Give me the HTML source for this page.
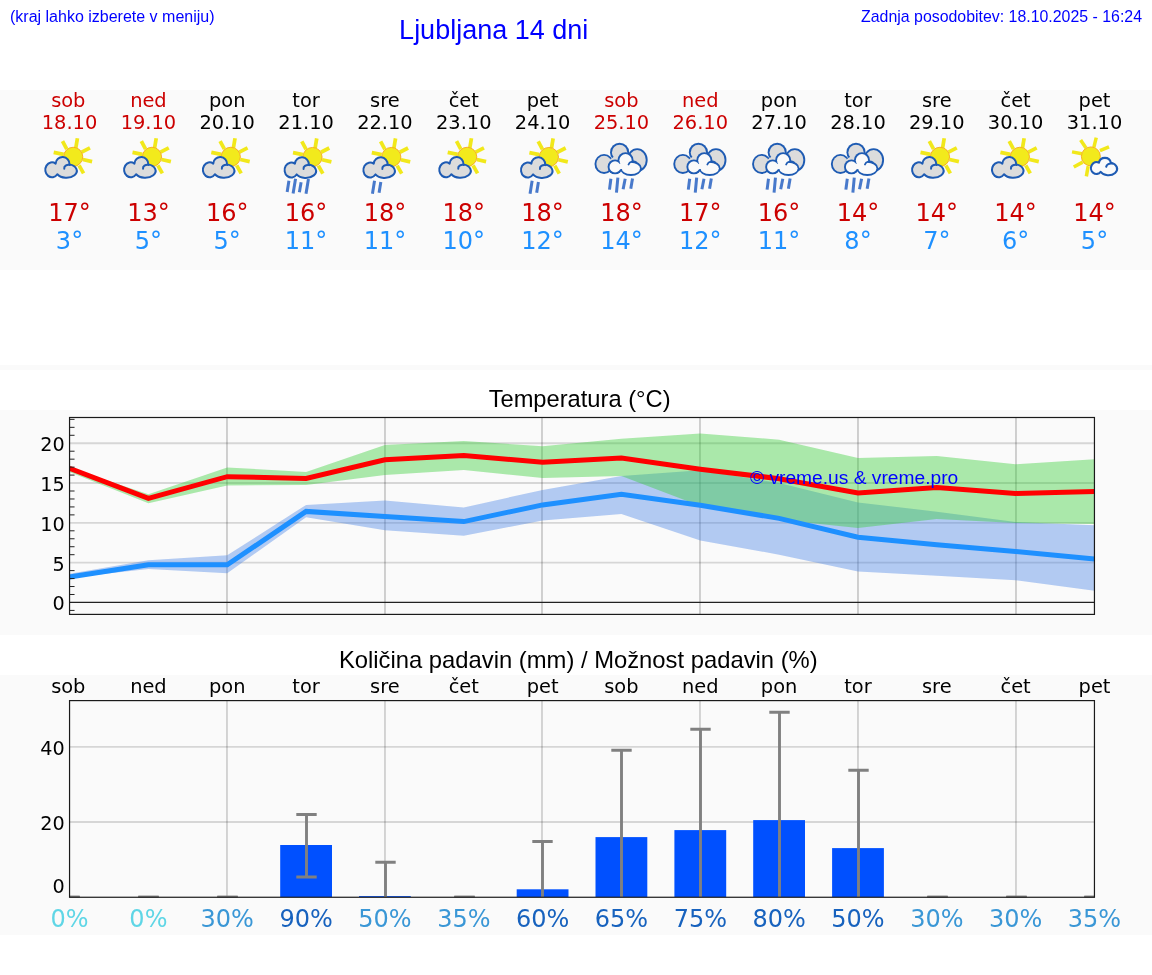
<!DOCTYPE html>
<html lang="sl"><head><meta charset="utf-8"><title>Ljubljana 14 dni</title>
<style>html,body{margin:0;padding:0;background:#fff}body{width:1152px;height:975px;overflow:hidden}svg{display:block}.a{font-family:"Liberation Sans",sans-serif}.d{font-family:"DejaVu Sans","Liberation Sans",sans-serif}</style></head><body>
<svg width="1152" height="975" viewBox="0 0 1152 975">
<defs>
<g id="pc"><g transform="scale(0.05333)"><g transform="translate(-3,11)"><g stroke="#f1e81a" stroke-width="70"><line x1="505" y1="310" x2="425" y2="160"/><line x1="675" y1="285" x2="705" y2="105"/><line x1="785" y1="365" x2="940" y2="285"/><line x1="805" y1="505" x2="980" y2="545"/><line x1="735" y1="615" x2="820" y2="765"/><line x1="445" y1="410" x2="260" y2="372"/></g><circle cx="625" cy="455" r="180" fill="#f2ea1c" stroke="#f6a81c" stroke-width="17"/></g><path d="M325,792 A125,140 0 1 1 293,592 A130,130 0 0 1 553,607 A195,128 0 1 1 325,792 Z" fill="#dcdcdc" stroke="#1e5bb3" stroke-width="38" stroke-linejoin="round"/><path d="M560,617 C500,608 445,640 455,690" fill="none" stroke="#1e5bb3" stroke-width="38" stroke-linecap="round"/></g></g>
<g id="sh4"><g transform="translate(2.9,0.2) scale(0.05333)"><g transform="translate(-3,11)"><g stroke="#f1e81a" stroke-width="70"><line x1="505" y1="310" x2="425" y2="160"/><line x1="675" y1="285" x2="705" y2="105"/><line x1="785" y1="365" x2="940" y2="285"/><line x1="805" y1="505" x2="980" y2="545"/><line x1="735" y1="615" x2="820" y2="765"/><line x1="445" y1="410" x2="260" y2="372"/></g><circle cx="625" cy="455" r="180" fill="#f2ea1c" stroke="#f6a81c" stroke-width="17"/></g><path d="M325,792 A125,140 0 1 1 293,592 A130,130 0 0 1 553,607 A195,128 0 1 1 325,792 Z" fill="#dcdcdc" stroke="#1e5bb3" stroke-width="38" stroke-linejoin="round"/><path d="M560,617 C500,608 445,640 455,690" fill="none" stroke="#1e5bb3" stroke-width="38" stroke-linecap="round"/></g><g transform="translate(-0.4,0) scale(0.06978)"><g stroke="#4879cb" stroke-width="43"><line x1="185" y1="700" x2="160" y2="860"/><line x1="280" y1="670" x2="245" y2="880"/><line x1="360" y1="720" x2="335" y2="865"/><line x1="465" y1="675" x2="430" y2="885"/></g></g></g>
<g id="sh2"><g transform="translate(2.9,0.2) scale(0.05333)"><g transform="translate(-3,11)"><g stroke="#f1e81a" stroke-width="70"><line x1="505" y1="310" x2="425" y2="160"/><line x1="675" y1="285" x2="705" y2="105"/><line x1="785" y1="365" x2="940" y2="285"/><line x1="805" y1="505" x2="980" y2="545"/><line x1="735" y1="615" x2="820" y2="765"/><line x1="445" y1="410" x2="260" y2="372"/></g><circle cx="625" cy="455" r="180" fill="#f2ea1c" stroke="#f6a81c" stroke-width="17"/></g><path d="M325,792 A125,140 0 1 1 293,592 A130,130 0 0 1 553,607 A195,128 0 1 1 325,792 Z" fill="#dcdcdc" stroke="#1e5bb3" stroke-width="38" stroke-linejoin="round"/><path d="M560,617 C500,608 445,640 455,690" fill="none" stroke="#1e5bb3" stroke-width="38" stroke-linecap="round"/></g><g transform="translate(-0.2,0) scale(0.06978)"><g stroke="#4879cb" stroke-width="43"><line x1="280" y1="700" x2="250" y2="885"/><line x1="370" y1="715" x2="345" y2="870"/></g></g></g>
<g id="rain"><g transform="translate(-0.6,0) scale(0.06978)"><g fill="#1e5bb3"><ellipse cx="187" cy="458" rx="137" ry="143"/><ellipse cx="410" cy="292" rx="137" ry="137"/><ellipse cx="662" cy="402" rx="150" ry="170"/></g><g fill="#dcdcdc"><ellipse cx="187" cy="458" rx="110" ry="116"/><ellipse cx="410" cy="292" rx="110" ry="110"/><ellipse cx="662" cy="402" rx="123" ry="143"/><path d="M187,458 L410,292 L662,402 L600,540 L300,560 Z"/></g><g fill="#1e5bb3"><ellipse cx="345" cy="500" rx="107" ry="107"/><ellipse cx="495" cy="405" rx="115" ry="115"/><ellipse cx="572" cy="522" rx="158" ry="108"/></g><g fill="#fafafa"><ellipse cx="345" cy="500" rx="80" ry="80"/><ellipse cx="495" cy="405" rx="88" ry="88"/><ellipse cx="572" cy="522" rx="131" ry="81"/><path d="M345,500 L495,405 L572,522 L572,548 L440,532 L345,545 Z"/></g><path d="M652,436 C610,408 552,420 538,465" fill="none" stroke="#1e5bb3" stroke-width="26" stroke-linecap="round"/><g stroke="#4879cb" stroke-width="43"><line x1="285" y1="670" x2="265" y2="825"/><line x1="385" y1="655" x2="365" y2="870"/><line x1="490" y1="670" x2="460" y2="820"/><line x1="595" y1="665" x2="570" y2="815"/></g></g></g>
<g id="sunny"><g transform="translate(-0.4,0) scale(0.06978)"><g stroke="#f1e81a" stroke-width="50"><line x1="255" y1="312" x2="115" y2="285"/><line x1="315" y1="230" x2="238" y2="115"/><line x1="428" y1="220" x2="462" y2="80"/><line x1="515" y1="268" x2="645" y2="212"/><line x1="268" y1="432" x2="140" y2="502"/><line x1="347" y1="490" x2="320" y2="635"/></g><circle cx="385" cy="350" r="136" fill="#f2ea1c" stroke="#f6a81c" stroke-width="13"/><path d="M525,570 A78,85 0 1 1 500,440 A88,88 0 0 1 672,440 A125,92 0 1 1 525,570 Z" fill="#fafafa" stroke="#1e5bb3" stroke-width="30" stroke-linejoin="round"/><path d="M690,452 C650,445 610,465 605,498" fill="none" stroke="#1e5bb3" stroke-width="30" stroke-linecap="round"/></g></g>
</defs>
<rect x="0" y="90" width="1152" height="180" fill="#fafafa"/>
<rect x="0" y="365" width="1152" height="5" fill="#fafafa"/>
<rect x="0" y="410" width="1152" height="225" fill="#fafafa"/>
<rect x="0" y="675" width="1152" height="260" fill="#fafafa"/>
<text class="a" x="10" y="22" font-size="16" fill="#0000ff">(kraj lahko izberete v meniju)</text>
<text class="a" x="493.7" y="39.2" font-size="27" fill="#0000ff" text-anchor="middle">Ljubljana 14 dni</text>
<text class="a" x="1142" y="21.7" font-size="15.9" fill="#0000ff" text-anchor="end">Zadnja posodobitev: 18.10.2025 - 16:24</text>
<text class="d" x="68.3" y="106.5" font-size="19.4" fill="#cc0000" text-anchor="middle">sob</text>
<text class="d" x="69.5" y="129.2" font-size="19.4" fill="#cc0000" text-anchor="middle">18.10</text>
<use href="#pc" x="40.0" y="132"/>
<text class="d" x="69.5" y="221" font-size="24" fill="#cc0000" text-anchor="middle">17°</text>
<text class="d" x="69.5" y="248.8" font-size="24" fill="#1e90ff" text-anchor="middle">3°</text>
<text class="d" x="148.4" y="106.5" font-size="19.4" fill="#cc0000" text-anchor="middle">ned</text>
<text class="d" x="148.4" y="129.2" font-size="19.4" fill="#cc0000" text-anchor="middle">19.10</text>
<use href="#pc" x="118.8" y="132"/>
<text class="d" x="148.4" y="221" font-size="24" fill="#cc0000" text-anchor="middle">13°</text>
<text class="d" x="148.4" y="248.8" font-size="24" fill="#1e90ff" text-anchor="middle">5°</text>
<text class="d" x="227.2" y="106.5" font-size="19.4" fill="#000" text-anchor="middle">pon</text>
<text class="d" x="227.2" y="129.2" font-size="19.4" fill="#000" text-anchor="middle">20.10</text>
<use href="#pc" x="197.6" y="132"/>
<text class="d" x="227.2" y="221" font-size="24" fill="#cc0000" text-anchor="middle">16°</text>
<text class="d" x="227.2" y="248.8" font-size="24" fill="#1e90ff" text-anchor="middle">5°</text>
<text class="d" x="306.1" y="106.5" font-size="19.4" fill="#000" text-anchor="middle">tor</text>
<text class="d" x="306.1" y="129.2" font-size="19.4" fill="#000" text-anchor="middle">21.10</text>
<use href="#sh4" x="276.4" y="132"/>
<text class="d" x="306.1" y="221" font-size="24" fill="#cc0000" text-anchor="middle">16°</text>
<text class="d" x="306.1" y="248.8" font-size="24" fill="#1e90ff" text-anchor="middle">11°</text>
<text class="d" x="384.9" y="106.5" font-size="19.4" fill="#000" text-anchor="middle">sre</text>
<text class="d" x="384.9" y="129.2" font-size="19.4" fill="#000" text-anchor="middle">22.10</text>
<use href="#sh2" x="355.2" y="132"/>
<text class="d" x="384.9" y="221" font-size="24" fill="#cc0000" text-anchor="middle">18°</text>
<text class="d" x="384.9" y="248.8" font-size="24" fill="#1e90ff" text-anchor="middle">11°</text>
<text class="d" x="463.8" y="106.5" font-size="19.4" fill="#000" text-anchor="middle">čet</text>
<text class="d" x="463.8" y="129.2" font-size="19.4" fill="#000" text-anchor="middle">23.10</text>
<use href="#pc" x="434.0" y="132"/>
<text class="d" x="463.8" y="221" font-size="24" fill="#cc0000" text-anchor="middle">18°</text>
<text class="d" x="463.8" y="248.8" font-size="24" fill="#1e90ff" text-anchor="middle">10°</text>
<text class="d" x="542.6" y="106.5" font-size="19.4" fill="#000" text-anchor="middle">pet</text>
<text class="d" x="542.6" y="129.2" font-size="19.4" fill="#000" text-anchor="middle">24.10</text>
<use href="#sh2" x="512.8" y="132"/>
<text class="d" x="542.6" y="221" font-size="24" fill="#cc0000" text-anchor="middle">18°</text>
<text class="d" x="542.6" y="248.8" font-size="24" fill="#1e90ff" text-anchor="middle">12°</text>
<text class="d" x="621.4" y="106.5" font-size="19.4" fill="#cc0000" text-anchor="middle">sob</text>
<text class="d" x="621.4" y="129.2" font-size="19.4" fill="#cc0000" text-anchor="middle">25.10</text>
<use href="#rain" x="591.6" y="132"/>
<text class="d" x="621.4" y="221" font-size="24" fill="#cc0000" text-anchor="middle">18°</text>
<text class="d" x="621.4" y="248.8" font-size="24" fill="#1e90ff" text-anchor="middle">14°</text>
<text class="d" x="700.3" y="106.5" font-size="19.4" fill="#cc0000" text-anchor="middle">ned</text>
<text class="d" x="700.3" y="129.2" font-size="19.4" fill="#cc0000" text-anchor="middle">26.10</text>
<use href="#rain" x="670.4" y="132"/>
<text class="d" x="700.3" y="221" font-size="24" fill="#cc0000" text-anchor="middle">17°</text>
<text class="d" x="700.3" y="248.8" font-size="24" fill="#1e90ff" text-anchor="middle">12°</text>
<text class="d" x="779.1" y="106.5" font-size="19.4" fill="#000" text-anchor="middle">pon</text>
<text class="d" x="779.1" y="129.2" font-size="19.4" fill="#000" text-anchor="middle">27.10</text>
<use href="#rain" x="749.2" y="132"/>
<text class="d" x="779.1" y="221" font-size="24" fill="#cc0000" text-anchor="middle">16°</text>
<text class="d" x="779.1" y="248.8" font-size="24" fill="#1e90ff" text-anchor="middle">11°</text>
<text class="d" x="858.0" y="106.5" font-size="19.4" fill="#000" text-anchor="middle">tor</text>
<text class="d" x="858.0" y="129.2" font-size="19.4" fill="#000" text-anchor="middle">28.10</text>
<use href="#rain" x="828.0" y="132"/>
<text class="d" x="858.0" y="221" font-size="24" fill="#cc0000" text-anchor="middle">14°</text>
<text class="d" x="858.0" y="248.8" font-size="24" fill="#1e90ff" text-anchor="middle">8°</text>
<text class="d" x="936.8" y="106.5" font-size="19.4" fill="#000" text-anchor="middle">sre</text>
<text class="d" x="936.8" y="129.2" font-size="19.4" fill="#000" text-anchor="middle">29.10</text>
<use href="#pc" x="906.8" y="132"/>
<text class="d" x="936.8" y="221" font-size="24" fill="#cc0000" text-anchor="middle">14°</text>
<text class="d" x="936.8" y="248.8" font-size="24" fill="#1e90ff" text-anchor="middle">7°</text>
<text class="d" x="1015.6" y="106.5" font-size="19.4" fill="#000" text-anchor="middle">čet</text>
<text class="d" x="1015.6" y="129.2" font-size="19.4" fill="#000" text-anchor="middle">30.10</text>
<use href="#pc" x="986.7" y="132"/>
<text class="d" x="1015.6" y="221" font-size="24" fill="#cc0000" text-anchor="middle">14°</text>
<text class="d" x="1015.6" y="248.8" font-size="24" fill="#1e90ff" text-anchor="middle">6°</text>
<text class="d" x="1094.5" y="106.5" font-size="19.4" fill="#000" text-anchor="middle">pet</text>
<text class="d" x="1094.5" y="129.2" font-size="19.4" fill="#000" text-anchor="middle">31.10</text>
<use href="#sunny" x="1064.4" y="132"/>
<text class="d" x="1094.5" y="221" font-size="24" fill="#cc0000" text-anchor="middle">14°</text>
<text class="d" x="1094.5" y="248.8" font-size="24" fill="#1e90ff" text-anchor="middle">5°</text>
<text class="a" x="579.6" y="407.3" font-size="23.7" fill="#000" text-anchor="middle">Temperatura (°C)</text>
<clipPath id="ct"><rect x="69.55" y="417.5" width="1024.9" height="196.89999999999998"/></clipPath>
<g stroke="#000" stroke-opacity="0.14" stroke-width="1.9"><line x1="69.55" x2="1094.45" y1="562.65" y2="562.65"/><line x1="69.55" x2="1094.45" y1="522.85" y2="522.85"/><line x1="69.55" x2="1094.45" y1="483.05" y2="483.05"/><line x1="69.55" x2="1094.45" y1="443.25" y2="443.25"/></g>
<g stroke="#000" stroke-opacity="0.18" stroke-width="1.9"><line x1="226.97" x2="226.97" y1="417.5" y2="614.4"/><line x1="384.97" x2="384.97" y1="417.5" y2="614.4"/><line x1="541.99" x2="541.99" y1="417.5" y2="614.4"/><line x1="699.97" x2="699.97" y1="417.5" y2="614.4"/><line x1="857.97" x2="857.97" y1="417.5" y2="614.4"/><line x1="1015.97" x2="1015.97" y1="417.5" y2="614.4"/></g>
<line x1="69.55" x2="1094.45" y1="602.45" y2="602.45" stroke="#222" stroke-width="1.2"/>
<g clip-path="url(#ct)">
<polygon points="69.5,573.8 148.4,560.3 227.2,555.3 306.1,504.9 384.9,500.6 463.8,507.4 542.6,489.9 621.4,475.9 700.3,470.3 779.1,483.1 858.0,502.4 936.8,511.7 1015.6,522.1 1094.5,525.2 1094.5,590.7 1015.6,580.2 936.8,575.8 858.0,571.5 779.1,554.7 700.3,540.4 621.4,514.1 542.6,520.5 463.8,535.8 384.9,530.3 306.1,517.3 227.2,573.2 148.4,569.0 69.5,577.8" fill="#4682e6" fill-opacity="0.4"/>
<polygon points="69.5,467.9 148.4,494.2 227.2,467.4 306.1,471.9 384.9,445.0 463.8,441.0 542.6,446.3 621.4,438.8 700.3,433.5 779.1,439.7 858.0,458.0 936.8,456.0 1015.6,464.2 1094.5,459.2 1094.5,524.1 1015.6,522.9 936.8,519.1 858.0,527.9 779.1,519.7 700.3,505.9 621.4,475.9 542.6,478.0 463.8,469.9 384.9,474.9 306.1,484.9 227.2,485.4 148.4,503.3 69.5,471.9" fill="#32cd32" fill-opacity="0.4"/>
<polyline points="69.5,468.3 148.4,498.4 227.2,476.7 306.1,478.4 384.9,459.7 463.8,455.5 542.6,462.2 621.4,458.0 700.3,469.2 779.1,478.7 858.0,492.9 936.8,487.4 1015.6,493.4 1094.5,491.6" fill="none" stroke="#ff0000" stroke-width="5" stroke-linejoin="miter"/>
<polyline points="69.5,577.0 148.4,564.8 227.2,564.8 306.1,511.4 384.9,516.5 463.8,521.6 542.6,504.9 621.4,494.2 700.3,505.3 779.1,518.4 858.0,537.3 936.8,544.8 1015.6,551.5 1094.5,559.1" fill="none" stroke="#1e90ff" stroke-width="5" stroke-linejoin="miter"/>
</g>
<g stroke="#222" stroke-width="1"><line x1="69.55" x2="74.55" y1="610.41" y2="610.41"/><line x1="69.55" x2="74.55" y1="594.49" y2="594.49"/><line x1="69.55" x2="74.55" y1="586.53" y2="586.53"/><line x1="69.55" x2="74.55" y1="578.57" y2="578.57"/><line x1="69.55" x2="74.55" y1="570.61" y2="570.61"/><line x1="69.55" x2="74.55" y1="554.69" y2="554.69"/><line x1="69.55" x2="74.55" y1="546.73" y2="546.73"/><line x1="69.55" x2="74.55" y1="538.77" y2="538.77"/><line x1="69.55" x2="74.55" y1="530.81" y2="530.81"/><line x1="69.55" x2="74.55" y1="514.89" y2="514.89"/><line x1="69.55" x2="74.55" y1="506.93" y2="506.93"/><line x1="69.55" x2="74.55" y1="498.97" y2="498.97"/><line x1="69.55" x2="74.55" y1="491.01" y2="491.01"/><line x1="69.55" x2="74.55" y1="475.09" y2="475.09"/><line x1="69.55" x2="74.55" y1="467.13" y2="467.13"/><line x1="69.55" x2="74.55" y1="459.17" y2="459.17"/><line x1="69.55" x2="74.55" y1="451.21" y2="451.21"/><line x1="69.55" x2="74.55" y1="435.29" y2="435.29"/><line x1="69.55" x2="74.55" y1="427.33" y2="427.33"/><line x1="69.55" x2="74.55" y1="419.37" y2="419.37"/></g>
<rect x="69.55" y="417.5" width="1024.9" height="196.89999999999998" fill="none" stroke="#1a1a1a" stroke-width="1.2"/>
<text class="d" x="64.6" y="609.8" font-size="19.2" fill="#000" text-anchor="end">0</text>
<text class="d" x="64.6" y="570.6" font-size="19.2" fill="#000" text-anchor="end">5</text>
<text class="d" x="64.6" y="530.8" font-size="19.2" fill="#000" text-anchor="end">10</text>
<text class="d" x="64.6" y="491.0" font-size="19.2" fill="#000" text-anchor="end">15</text>
<text class="d" x="64.6" y="451.2" font-size="19.2" fill="#000" text-anchor="end">20</text>
<text class="a" x="750" y="483.7" font-size="19.2" fill="#0000ff">© vreme.us &amp; vreme.pro</text>
<text class="a" x="578.3" y="667.6" font-size="23.8" fill="#000" text-anchor="middle">Količina padavin (mm) / Možnost padavin (%)</text>
<text class="d" x="68.3" y="692.7" font-size="19.4" fill="#000" text-anchor="middle">sob</text>
<text class="d" x="148.4" y="692.7" font-size="19.4" fill="#000" text-anchor="middle">ned</text>
<text class="d" x="227.2" y="692.7" font-size="19.4" fill="#000" text-anchor="middle">pon</text>
<text class="d" x="306.1" y="692.7" font-size="19.4" fill="#000" text-anchor="middle">tor</text>
<text class="d" x="384.9" y="692.7" font-size="19.4" fill="#000" text-anchor="middle">sre</text>
<text class="d" x="463.8" y="692.7" font-size="19.4" fill="#000" text-anchor="middle">čet</text>
<text class="d" x="542.6" y="692.7" font-size="19.4" fill="#000" text-anchor="middle">pet</text>
<text class="d" x="621.4" y="692.7" font-size="19.4" fill="#000" text-anchor="middle">sob</text>
<text class="d" x="700.3" y="692.7" font-size="19.4" fill="#000" text-anchor="middle">ned</text>
<text class="d" x="779.1" y="692.7" font-size="19.4" fill="#000" text-anchor="middle">pon</text>
<text class="d" x="858.0" y="692.7" font-size="19.4" fill="#000" text-anchor="middle">tor</text>
<text class="d" x="936.8" y="692.7" font-size="19.4" fill="#000" text-anchor="middle">sre</text>
<text class="d" x="1015.6" y="692.7" font-size="19.4" fill="#000" text-anchor="middle">čet</text>
<text class="d" x="1094.5" y="692.7" font-size="19.4" fill="#000" text-anchor="middle">pet</text>
<g stroke="#000" stroke-opacity="0.14" stroke-width="1.9"><line x1="69.55" x2="1094.45" y1="822.06" y2="822.06"/><line x1="69.55" x2="1094.45" y1="746.86" y2="746.86"/></g>
<g stroke="#000" stroke-opacity="0.16" stroke-width="1.9"><line x1="226.97" x2="226.97" y1="700.6" y2="897.26"/><line x1="384.97" x2="384.97" y1="700.6" y2="897.26"/><line x1="541.99" x2="541.99" y1="700.6" y2="897.26"/><line x1="699.97" x2="699.97" y1="700.6" y2="897.26"/><line x1="857.97" x2="857.97" y1="700.6" y2="897.26"/><line x1="1015.97" x2="1015.97" y1="700.6" y2="897.26"/></g>
<clipPath id="cp"><rect x="69.55" y="700.6" width="1024.9" height="196.65999999999997"/></clipPath>
<g clip-path="url(#cp)">
<rect x="280.2" y="845.0" width="51.8" height="52.3" fill="#0050ff"/>
<rect x="359.0" y="896.1" width="51.8" height="1.1" fill="#0050ff"/>
<rect x="516.7" y="889.3" width="51.8" height="8.0" fill="#0050ff"/>
<rect x="595.5" y="837.1" width="51.8" height="60.2" fill="#0050ff"/>
<rect x="674.4" y="830.1" width="51.8" height="67.2" fill="#0050ff"/>
<rect x="753.2" y="820.1" width="51.8" height="77.2" fill="#0050ff"/>
<rect x="832.1" y="848.1" width="51.8" height="49.1" fill="#0050ff"/>
<g stroke="#808080" stroke-width="2.9"><line x1="69.5" x2="69.5" y1="897.3" y2="897.3"/><line x1="59.3" x2="79.7" y1="897.3" y2="897.3"/><line x1="59.3" x2="79.7" y1="897.3" y2="897.3"/></g>
<g stroke="#808080" stroke-width="2.9"><line x1="148.5" x2="148.5" y1="897.3" y2="897.3"/><line x1="138.3" x2="158.7" y1="897.3" y2="897.3"/><line x1="138.3" x2="158.7" y1="897.3" y2="897.3"/></g>
<g stroke="#808080" stroke-width="2.9"><line x1="227.5" x2="227.5" y1="897.3" y2="897.3"/><line x1="217.3" x2="237.7" y1="897.3" y2="897.3"/><line x1="217.3" x2="237.7" y1="897.3" y2="897.3"/></g>
<g stroke="#808080" stroke-width="2.9"><line x1="306.5" x2="306.5" y1="814.5" y2="877.0"/><line x1="296.3" x2="316.7" y1="814.5" y2="814.5"/><line x1="296.3" x2="316.7" y1="877.0" y2="877.0"/></g>
<g stroke="#808080" stroke-width="2.9"><line x1="385.5" x2="385.5" y1="862.2" y2="897.3"/><line x1="375.3" x2="395.7" y1="862.2" y2="862.2"/></g>
<g stroke="#808080" stroke-width="2.9"><line x1="464.5" x2="464.5" y1="897.3" y2="897.3"/><line x1="454.3" x2="474.7" y1="897.3" y2="897.3"/><line x1="454.3" x2="474.7" y1="897.3" y2="897.3"/></g>
<g stroke="#808080" stroke-width="2.9"><line x1="542.5" x2="542.5" y1="841.5" y2="897.3"/><line x1="532.3" x2="552.7" y1="841.5" y2="841.5"/></g>
<g stroke="#808080" stroke-width="2.9"><line x1="621.5" x2="621.5" y1="750.2" y2="897.3"/><line x1="611.3" x2="631.7" y1="750.2" y2="750.2"/></g>
<g stroke="#808080" stroke-width="2.9"><line x1="700.5" x2="700.5" y1="729.2" y2="897.3"/><line x1="690.3" x2="710.7" y1="729.2" y2="729.2"/></g>
<g stroke="#808080" stroke-width="2.9"><line x1="779.5" x2="779.5" y1="712.3" y2="897.3"/><line x1="769.3" x2="789.7" y1="712.3" y2="712.3"/></g>
<g stroke="#808080" stroke-width="2.9"><line x1="858.5" x2="858.5" y1="770.2" y2="897.3"/><line x1="848.3" x2="868.7" y1="770.2" y2="770.2"/></g>
<g stroke="#808080" stroke-width="2.9"><line x1="937.5" x2="937.5" y1="897.3" y2="897.3"/><line x1="927.3" x2="947.7" y1="897.3" y2="897.3"/><line x1="927.3" x2="947.7" y1="897.3" y2="897.3"/></g>
<g stroke="#808080" stroke-width="2.9"><line x1="1016.5" x2="1016.5" y1="897.3" y2="897.3"/><line x1="1006.3" x2="1026.7" y1="897.3" y2="897.3"/><line x1="1006.3" x2="1026.7" y1="897.3" y2="897.3"/></g>
<g stroke="#808080" stroke-width="2.9"><line x1="1094.5" x2="1094.5" y1="897.3" y2="897.3"/><line x1="1084.3" x2="1104.7" y1="897.3" y2="897.3"/><line x1="1084.3" x2="1104.7" y1="897.3" y2="897.3"/></g>
</g>
<rect x="69.55" y="700.6" width="1024.9" height="196.65999999999997" fill="none" stroke="#1a1a1a" stroke-width="1.2"/>
<text class="d" x="64.6" y="892.5" font-size="19.2" fill="#000" text-anchor="end">0</text>
<text class="d" x="64.6" y="829.9" font-size="19.2" fill="#000" text-anchor="end">20</text>
<text class="d" x="64.6" y="754.85" font-size="19.2" fill="#000" text-anchor="end">40</text>
<text class="d" x="69.5" y="926.8" font-size="24" fill="#5fd6e6" text-anchor="middle">0%</text>
<text class="d" x="148.4" y="926.8" font-size="24" fill="#5fd6e6" text-anchor="middle">0%</text>
<text class="d" x="227.2" y="926.8" font-size="24" fill="#3a97d6" text-anchor="middle">30%</text>
<text class="d" x="306.1" y="926.8" font-size="24" fill="#1762be" text-anchor="middle">90%</text>
<text class="d" x="384.9" y="926.8" font-size="24" fill="#3a97d6" text-anchor="middle">50%</text>
<text class="d" x="463.8" y="926.8" font-size="24" fill="#3a97d6" text-anchor="middle">35%</text>
<text class="d" x="542.6" y="926.8" font-size="24" fill="#1762be" text-anchor="middle">60%</text>
<text class="d" x="621.4" y="926.8" font-size="24" fill="#1762be" text-anchor="middle">65%</text>
<text class="d" x="700.3" y="926.8" font-size="24" fill="#1762be" text-anchor="middle">75%</text>
<text class="d" x="779.1" y="926.8" font-size="24" fill="#1762be" text-anchor="middle">80%</text>
<text class="d" x="858.0" y="926.8" font-size="24" fill="#1762be" text-anchor="middle">50%</text>
<text class="d" x="936.8" y="926.8" font-size="24" fill="#3a97d6" text-anchor="middle">30%</text>
<text class="d" x="1015.6" y="926.8" font-size="24" fill="#3a97d6" text-anchor="middle">30%</text>
<text class="d" x="1094.5" y="926.8" font-size="24" fill="#3a97d6" text-anchor="middle">35%</text>
</svg></body></html>
